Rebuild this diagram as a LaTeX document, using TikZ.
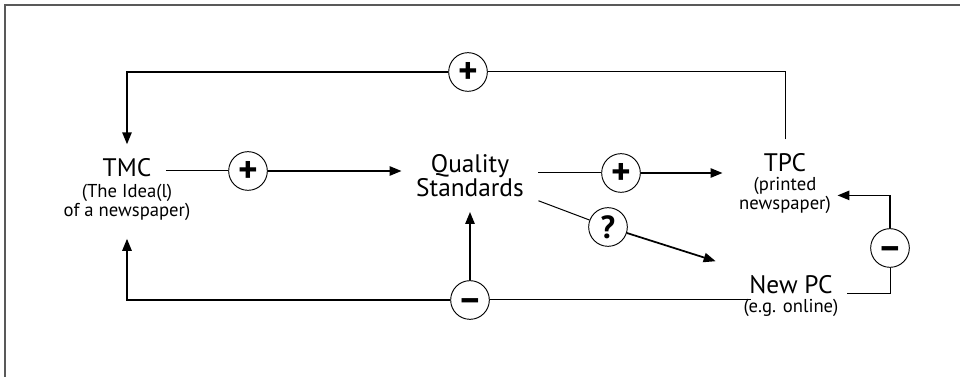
\documentclass[tikz,border=0pt]{standalone}
\usepackage{fontspec}
\setmainfont{PT Sans}
\usetikzlibrary{positioning,arrows.meta}

\begin{document}
\begin{tikzpicture}[
    x=0.75pt, y=-0.75pt,
    concept/.style={inner sep=0pt, outer sep=11pt, align=center, font=\fontsize{19}{16.5}\selectfont},
    note/.style={inner sep=0pt, outer sep=0pt, align=center, font=\fontsize{14}{12}\selectfont},
    sign/.style={circle, draw, line width=0.7pt, minimum size=29pt, inner sep=0pt,
        text height=18pt, text depth=0pt, font=\fontsize{28}{28}\selectfont\bfseries},
    link/.style={line width=0.75pt},
    arrow/.style={-{Triangle[length=9pt, width=7pt]}, line width=1.3pt},
    frame/.style={draw=black!65, line width=1.5pt}
]
    \useasboundingbox (0,0) rectangle (960,377);
    \draw[frame] (960,5) -- (5,5) -- (5,377);

    % concepts
    \node[concept, anchor=base] (tmc) at (127,177) {TMC};
    \node[note, below=5.25pt of tmc.base] (tmcnote) {(The Idea(l)\\of a newspaper)};
    \node[concept, anchor=base] (qs) at (470,197) {Quality\\Standards};
    \node[concept, anchor=base] (tpc) at (785,172) {TPC};
    \node[note, below=4pt of tpc.base] (tpcnote) {(printed\\newspaper)};
    \node[concept, anchor=base] (newpc) at (791,294) {New PC};
    \node[note, below=4pt of newpc.base] (newpcnote) {(e.g. online)};

    % signs
    \node[sign] (p1) at (248,171) {+};
    \node[sign] (p2) at (621,173) {+};
    \node[sign] (p3) at (468,72) {+};
    \node[sign] (q1) at (608,227) {\fontsize{24}{24}\selectfont ?};
    \node[sign] (m1) at (470,300) {–};
    \node[sign] (m2) at (890,248) {–};

    % links
    \draw[link] (tmc.east |- p1) -- (p1);
    \draw[arrow] (p1) -- (p1 -| qs.west);
    \draw[link] (qs.east |- p2) -- (p2);
    \draw[arrow, shorten >=20pt] (p2) -- (p2 -| tpc.west);
    \draw[link] (tpc.north) |- (p3);
    \draw[arrow] (p3) -| (tmc.north);
    \draw[link, shorten <=-12pt] (newpc.west |- m1) -- (m1);
    \draw[arrow, shorten >=14pt] (m1) -| (tmcnote.south);
    \draw[arrow] (m1) -- (qs);
    \draw[link] (newpc.base east) -| (m2);
    \draw[arrow, shorten >=5pt] (m2) |- (tpcnote.east);
    \draw[link] (qs.-20) -- (q1);
    \draw[arrow, shorten >=15pt] (q1) -- (newpc);

\end{tikzpicture}
\end{document}
